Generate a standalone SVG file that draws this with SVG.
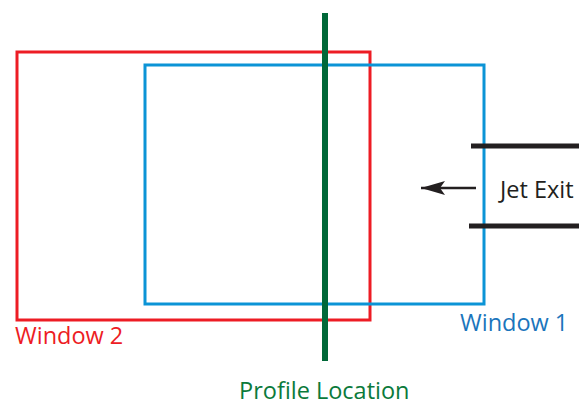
<svg xmlns="http://www.w3.org/2000/svg" width="579" height="406" viewBox="0 0 579 406">
  <style>
    .lbl { font-family: "Open Sans", "Liberation Sans", sans-serif; font-size: 23.5px; }
    .win { fill: none; stroke-width: 3; }
    .jet { stroke: #231f20; stroke-width: 5; }
  </style>
  <defs>
    <marker id="head" markerWidth="24" markerHeight="14" refX="24" refY="7" orient="auto" markerUnits="userSpaceOnUse">
      <path d="M0,0 L24,7 L0,14 L5,7 Z" fill="#231f20"/>
    </marker>
  </defs>
  <rect width="579" height="406" fill="#ffffff"/>

  <!-- measurement windows -->
  <g id="window2">
    <rect class="win" x="17" y="52" width="353" height="268" stroke="#ed1c24"/>
    <text class="lbl" x="15" y="344" fill="#ed1c24">Window 2</text>
  </g>
  <g id="window1">
    <rect class="win" x="145" y="65" width="339" height="239" stroke="#0b94d6"/>
    <text class="lbl" x="460" y="331" fill="#1b75bc">Window 1</text>
  </g>

  <!-- profile location line -->
  <g id="profile">
    <line x1="325" y1="13" x2="325" y2="361" stroke="#006838" stroke-width="6"/>
    <text class="lbl" x="239" y="399" fill="#0b7a3b">Profile Location</text>
  </g>

  <!-- jet exit nozzle walls -->
  <g id="jet-exit">
    <line class="jet" x1="471" y1="146" x2="579" y2="146"/>
    <line class="jet" x1="469" y1="226" x2="579" y2="226"/>
    <text class="lbl" x="500" y="198" fill="#231f20">Jet Exit</text>
  </g>

  <g id="connectors">
    <line x1="476" y1="188" x2="421" y2="188" stroke="#231f20" stroke-width="2.5" marker-end="url(#head)"/>
  </g>
</svg>
